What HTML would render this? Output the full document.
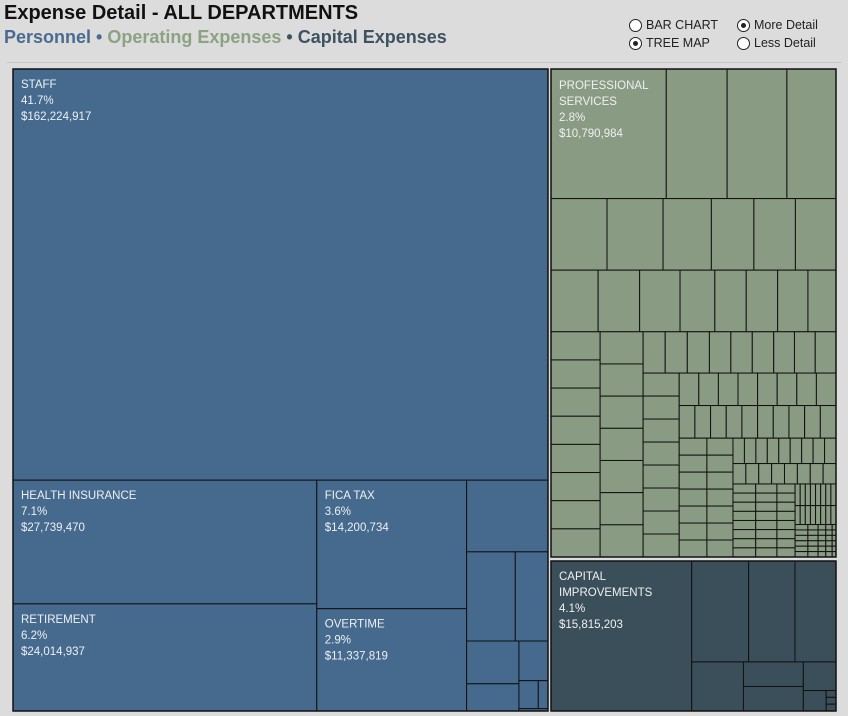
<!DOCTYPE html>
<html><head><meta charset="utf-8"><style>
html,body{margin:0;padding:0;background:#dcdcdc;width:848px;height:716px;overflow:hidden;font-family:"Liberation Sans",sans-serif}
#title{position:absolute;left:4px;top:2px;font-size:20px;font-weight:bold;color:#111;letter-spacing:0px}
#sub{position:absolute;left:4px;top:27px;font-size:18px;font-weight:bold;letter-spacing:0px}
.opt{position:absolute;font-size:12.5px;color:#222;display:flex;align-items:center}
.rad{width:11px;height:11px;border:1px solid #222;border-radius:50%;background:#fff;margin-right:4px;position:relative}
.rad.on::after{content:"";position:absolute;left:3px;top:3px;width:5px;height:5px;border-radius:50%;background:#222}
#sep{position:absolute;left:7px;top:62px;width:835px;height:1px;background:#c8c8c8}
svg{position:absolute;left:0;top:0}
</style></head><body>
<div id="title">Expense Detail - ALL DEPARTMENTS</div>
<div id="sub"><span style="color:#4a6b91">Personnel</span><span style="color:#4a6b91"> • </span><span style="color:#8ca283">Operating Expenses</span><span style="color:#3d5361"> • </span><span style="color:#3d5361">Capital Expenses</span></div>
<div class="opt" style="left:629px;top:18px"><span class="rad"></span>BAR CHART</div>
<div class="opt" style="left:629px;top:36px"><span class="rad on"></span>TREE MAP</div>
<div class="opt" style="left:737px;top:18px"><span class="rad on"></span>More Detail</div>
<div class="opt" style="left:737px;top:36px"><span class="rad"></span>Less Detail</div>
<div id="sep"></div>
<svg id="tm" width="848" height="716"></svg>
<script>
// values in $M; nested groups: ['h',...] splits horizontally, ['v',...] vertically
const personnelLabels = ["STAFF","HEALTH INSURANCE","RETIREMENT","FICA TAX","OVERTIME"];
const personnelPct = ["41.7%","7.1%","6.2%","3.6%","2.9%"];
const personnelAmt = ["$162,224,917","$27,739,470","$24,014,937","$14,200,734","$11,337,819"];
const personnelTree = ['v',162.2,['h',['v',27.7,24.0],['v',14.2,11.3],['v',4.3,['h',3.2,2.15],['h',['v',1.65,1.05],['v',0.85,['h',0.4,0.2],0.05]]]]];
const operatingTree = ['v',
 ['h',10.8,5.7,5.6,4.6],
 ['h',2.9,2.9,2.5,2.2,2.15,2.1],
 ['h',2.1,1.85,1.8,1.55,1.4,1.4,1.35,1.25],
 ['h',['v',1.0,1.0,1.0,1.0,1.0,1.0,1.0,1.0],['v',1.0,1.0,1.0,1.0,1.0,1.0,1.0],
  ['v',['h',.66,.66,.66,.64,.64,.64,.62,.62,.62],
   ['h',['v',.6,.6,.6,.6,.6,.6,.6,.6],
    ['v',['h',.46,.46,.46,.46,.46,.46,.46,.46],['h',.37,.37,.37,.37,.37,.37,.37,.37,.37,.37],
     ['h',['v',.34,.34,.34,.34,.34,.34,.34],['v',.32,.32,.32,.32,.32,.32,.32],
      ['v',['h',.21,.21,.21,.21,.21,.21,.21,.21,.21],['h',.19,.19,.19,.19,.19,.19,.19,.19],
       ['h',['v',.15,.15,.15,.15,.15,.15,.15,.15],['v',.14,.14,.14,.14,.14,.14,.14,.14],['v',.12,.12,.12,.12,.12,.12,.12,.12],
        ['v',['h',.08,.08,.08,.08,.08,.08,.08,.08],['h',.07,.07,.07,.07,.07,.07,.07,.07],
         ['h',['v',.05,.05,.05,.05,.05,.05],['v',.04,.04,.04,.04,.04,.04],['v',.03,.03,.03,.03,.03,.03],['v',.025,.025,.025,.025,.025,.025],['v',.015,.015,.015,.015,.015,.015]]]]]]]]]]];
const operatingLabel = ["PROFESSIONAL","SERVICES","2.8%","$10,790,984"];
const capitalTree = ['h',15.8,['v',['h',4.3,3.5,3.1],['h',1.9,['v',1.1,1.1],['v',0.7,['h',0.35,['v',0.05,0.05,0.05]]]]]];
const capitalLabel = ["CAPITAL","IMPROVEMENTS","4.1%","$15,815,203"];

const svg=document.getElementById('tm');
const NS='http://www.w3.org/2000/svg';
function total(n){return typeof n==='number'?n:n.slice(1).reduce((a,c)=>a+total(c),0);}
function lay(n,x,y,w,h,out){
  if(typeof n==='number'){out.push([x,y,w,h]);return;}
  const t=total(n);let p=0;
  n.slice(1).forEach(c=>{const f=total(c)/t;
    if(n[0]==='h'){lay(c,x+p,y,w*f,h,out);p+=w*f;}
    else{lay(c,x,y+p,w,h*f,out);p+=h*f;}});
}
function draw(tree,x,y,w,h,fill,name){
  const out=[];lay(tree,x,y,w,h,out);
  const g=document.createElementNS(NS,'g');
  
  
  out.forEach((r,i)=>{const e=document.createElementNS(NS,'rect');
    e.setAttribute('x',r[0]);e.setAttribute('y',r[1]);e.setAttribute('width',r[2]);e.setAttribute('height',r[3]);
    e.setAttribute('fill',fill);e.setAttribute('stroke','#111');e.setAttribute('stroke-width','1');
    
    
    g.appendChild(e);});
  const fr=document.createElementNS(NS,'rect');
  fr.setAttribute('x',x);fr.setAttribute('y',y);fr.setAttribute('width',w);fr.setAttribute('height',h);
  fr.setAttribute('fill','none');fr.setAttribute('stroke','#111');fr.setAttribute('stroke-width','1.5');
  
  
  g.appendChild(fr);
  svg.appendChild(g);return out;
}
function label(lines,x,y,name){
  const t=document.createElementNS(NS,'text');
  
  
  t.setAttribute('fill','#eef0f2');t.setAttribute('font-size','11.5');t.setAttribute('font-family','Liberation Sans, sans-serif');
  lines.forEach((s,i)=>{const sp=document.createElementNS(NS,'tspan');sp.setAttribute('x',x);sp.setAttribute('y',y+i*16);sp.textContent=s;t.appendChild(sp);});
  svg.appendChild(t);
}
const pr=draw(personnelTree,13,69,535,642,'#456a8e','personnel');
[0,1,2,3,4].forEach(i=>label([personnelLabels[i],personnelPct[i],personnelAmt[i]],pr[i][0]+8,pr[i][1]+19,'personnel-label-'+i));
const op=draw(operatingTree,551,69,285,488,'#899b83','operating');
label(operatingLabel,op[0][0]+8,op[0][1]+20,'operating-label-professional-services');
const cp=draw(capitalTree,551,561,285,150,'#3b4f5b','capital');
label(capitalLabel,cp[0][0]+8,cp[0][1]+19,'capital-label-improvements');
</script>
</body></html>
